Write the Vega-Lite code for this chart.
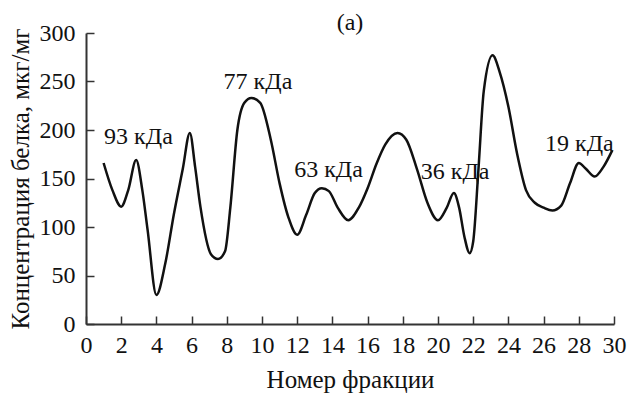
{
  "$schema": "https://vega.github.io/schema/vega-lite/v6.json",
  "width": 528,
  "height": 291,
  "autosize": {"type": "none"},
  "padding": {"left": 86, "top": 33, "right": 13, "bottom": 71},
  "background": "white",
  "title": {"text": "(a)", "font": "Liberation Serif", "fontSize": 24, "fontWeight": "normal", "color": "#111111", "anchor": "middle", "offset": -14},
  "config": {
    "view": {"stroke": null},
    "axis": {"grid": false, "labelFont": "Liberation Serif", "titleFont": "Liberation Serif", "labelColor": "#111111", "titleColor": "#111111", "labelFontSize": 24, "titleFontSize": 25, "titleFontWeight": "normal", "labelOverlap": false}
  },
  "datasets": {
    "curve": [
      {"f": 1, "c": 166}, {"f": 1.5, "c": 138}, {"f": 2, "c": 121}, {"f": 2.4, "c": 138}, {"f": 2.85, "c": 169},
      {"f": 3.2, "c": 138}, {"f": 3.5, "c": 97}, {"f": 4, "c": 30}, {"f": 4.5, "c": 62}, {"f": 5, "c": 114},
      {"f": 5.5, "c": 160}, {"f": 5.9, "c": 197}, {"f": 6.2, "c": 162}, {"f": 6.5, "c": 121}, {"f": 7.1, "c": 72},
      {"f": 7.5, "c": 67}, {"f": 7.9, "c": 75}, {"f": 8.2, "c": 120}, {"f": 8.6, "c": 200}, {"f": 9, "c": 228},
      {"f": 9.4, "c": 233}, {"f": 9.9, "c": 228}, {"f": 10.5, "c": 190}, {"f": 11, "c": 145}, {"f": 11.5, "c": 110},
      {"f": 12, "c": 92}, {"f": 12.5, "c": 112}, {"f": 13, "c": 135}, {"f": 13.4, "c": 140}, {"f": 13.8, "c": 137},
      {"f": 14.3, "c": 120}, {"f": 14.9, "c": 107}, {"f": 15.5, "c": 120}, {"f": 16, "c": 140}, {"f": 16.5, "c": 165},
      {"f": 17, "c": 185}, {"f": 17.7, "c": 197}, {"f": 18.2, "c": 190}, {"f": 18.8, "c": 160}, {"f": 19.4, "c": 125},
      {"f": 20, "c": 107}, {"f": 20.5, "c": 120}, {"f": 20.9, "c": 135}, {"f": 21.2, "c": 120}, {"f": 21.5, "c": 90},
      {"f": 21.8, "c": 73}, {"f": 22, "c": 85}, {"f": 22.3, "c": 160}, {"f": 22.6, "c": 240}, {"f": 23.1, "c": 277},
      {"f": 23.5, "c": 260}, {"f": 24, "c": 224}, {"f": 24.5, "c": 175}, {"f": 25, "c": 138}, {"f": 25.5, "c": 125},
      {"f": 26, "c": 120}, {"f": 26.5, "c": 117}, {"f": 27, "c": 122}, {"f": 27.5, "c": 145}, {"f": 28, "c": 166},
      {"f": 28.4, "c": 160}, {"f": 28.9, "c": 152}, {"f": 29.4, "c": 162}, {"f": 29.9, "c": 179}
    ],
    "labels": [
      {"f": 2.98, "c": 193, "t": "93 кДа"},
      {"f": 9.77, "c": 250, "t": "77 кДа"},
      {"f": 13.78, "c": 159, "t": "63 кДа"},
      {"f": 20.97, "c": 157, "t": "36 кДа"},
      {"f": 28.03, "c": 186, "t": "19 кДа"}
    ]
  },
  "encoding": {
    "x": {"field": "f", "type": "quantitative", "scale": {"domain": [0, 30], "nice": false},
          "axis": {"values": [0,2,4,6,8,10,12,14,16,18,20,22,24,26,28,30], "domain": true, "ticks": true, "domainColor": "#333333", "domainWidth": 2, "tickColor": "#333333", "tickWidth": 1.5, "tickSize": -8, "labelPadding": 17, "title": "Номер фракции", "titlePadding": 10, "labelFlush": false}},
    "y": {"field": "c", "type": "quantitative", "scale": {"domain": [0, 300], "nice": false},
          "axis": {"values": [0,50,100,150,200,250,300], "domain": true, "ticks": true, "domainColor": "#333333", "domainWidth": 2, "tickColor": "#333333", "tickWidth": 1.5, "tickSize": -8, "labelPadding": 19, "title": "Концентрация белка, мкг/мг", "titlePadding": 6, "labelFlush": false}}
  },
  "layer": [
    {
      "data": {"values": [{}]},
      "mark": {"type": "rule", "color": "#111111", "strokeWidth": 1.5},
      "encoding": {"x": {"datum": 0}, "x2": {"datum": 30}, "y": {"datum": 0}}
    },
    {
      "data": {"values": [{}]},
      "mark": {"type": "rule", "color": "#111111", "strokeWidth": 1.5},
      "encoding": {"x": {"datum": 0}, "y": {"datum": 0}, "y2": {"datum": 300}}
    },
    {
      "data": {"name": "curve"},
      "mark": {"type": "line", "interpolate": "monotone", "color": "#111111", "strokeWidth": 2.5}
    },
    {
      "data": {"name": "labels"},
      "mark": {"type": "text", "font": "Liberation Serif", "fontSize": 24, "color": "#111111", "align": "center", "baseline": "middle"},
      "encoding": {
        "text": {"field": "t"}
      }
    }
  ]
}
